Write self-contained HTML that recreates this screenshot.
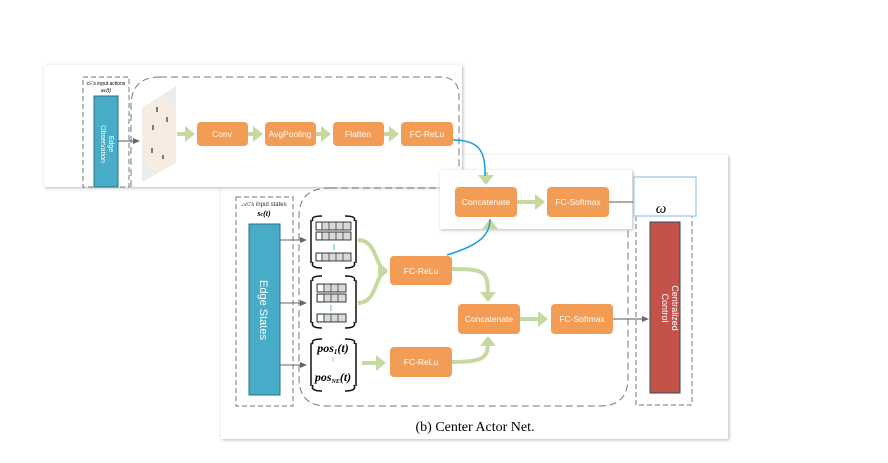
<!DOCTYPE html>
<html><head><meta charset="utf-8"><style>
html,body{margin:0;padding:0;background:#fff;}
svg{display:block;}
text{font-family:"Liberation Sans",sans-serif;}
text.sf,text.sf tspan{font-family:"Liberation Serif",serif;}
.bx{fill:#f39c55;}
.bt{fill:#fff;font-size:8.5px;text-anchor:middle;}
.g{stroke:#c5d9a0;fill:none;stroke-width:4;}
</style></head><body>
<svg width="888" height="463" viewBox="0 0 888 463" xmlns="http://www.w3.org/2000/svg">
<defs>
<marker id="ga" markerWidth="4" markerHeight="4" refX="2" refY="2" orient="auto" markerUnits="strokeWidth"><path d="M0,0L2.5,2L0,4z" fill="#c5d9a0"/></marker>
<marker id="ka" markerWidth="8" markerHeight="8" refX="6" refY="3" orient="auto" markerUnits="userSpaceOnUse"><path d="M0,0L7,3L0,6z" fill="#666"/></marker>
<filter id="sh" x="-5%" y="-5%" width="110%" height="115%"><feDropShadow dx="1" dy="1" stdDeviation="1.5" flood-color="#888" flood-opacity="0.6"/></filter>
<clipPath id="pc"><polygon points="142,108 176,86 176,163 142,182"/></clipPath>
</defs>

<!-- bottom panel -->
<rect x="221" y="155" width="507" height="284" fill="#fff" filter="url(#sh)"/>
<rect x="236" y="197" width="57" height="209" fill="none" stroke="#777" stroke-dasharray="5,3"/>
<text x="264" y="206" font-size="6" text-anchor="middle" fill="#333">𝒜<tspan fill="#2a6fd0">c</tspan>'s input states</text>
<text class="sf" x="264" y="216" font-size="8" text-anchor="middle" font-style="italic" font-weight="bold">s<tspan font-size="6">c</tspan>(t)</text>
<rect x="249" y="224" width="31" height="171" fill="#46acc8" stroke="#2a6f80"/>
<text transform="translate(260,310) rotate(90)" font-size="11" fill="#fff" text-anchor="middle">Edge States</text>
<path d="M330,188 H600 Q628,188 628,216 V378 Q628,406 600,406 H327 Q299,406 299,378 V216 Q299,188 330,188" fill="none" stroke="#777" stroke-dasharray="7,4"/>
<line x1="280" y1="240" x2="306" y2="240" stroke="#666" marker-end="url(#ka)"/>
<line x1="280" y1="303" x2="306" y2="303" stroke="#666" marker-end="url(#ka)"/>
<line x1="280" y1="365" x2="306" y2="365" stroke="#666" marker-end="url(#ka)"/>
<g stroke="#111" stroke-width="1.5" fill="none">
<path d="M313,221 Q310,216 322,216 M345,216 Q357,216 354,221 M313,262 Q310,268 322,268 M345,268 Q357,268 354,262"/>
<path d="M311,220 V263 M356,220 V263"/>
<path d="M313,281 Q310,276 322,276 M345,276 Q357,276 354,281 M313,322 Q310,328 322,328 M345,328 Q357,328 354,322"/>
<path d="M311,280 V323 M356,280 V323"/>
<path d="M313,344 Q310,339 322,339 M345,339 Q357,339 354,344 M313,385 Q310,391 322,391 M345,391 Q357,391 354,385"/>
<path d="M311,343 V386 M356,343 V386"/>
</g>
<g stroke="#111" stroke-width="0.8" fill="#d8d8d8">
<rect x="316" y="222" width="35" height="8"/><rect x="316" y="232" width="35" height="8"/><rect x="316" y="253" width="35" height="8"/>
<rect x="317" y="284" width="29" height="8"/><rect x="317" y="294" width="29" height="8"/><rect x="317" y="314" width="29" height="8"/>
</g>
<g stroke="#111" stroke-width="0.6">
<path d="M322,222V230M329,222V230M336,222V230M343,222V230M322,232V240M329,232V240M336,232V240M343,232V240M322,253V261M329,253V261M336,253V261M343,253V261"/>
<path d="M324,284V292M331,284V292M338,284V292M324,294V302M331,294V302M338,294V302M324,314V322M331,314V322M338,314V322"/>
</g>
<g fill="#fff" stroke="none"><rect x="317" y="223" width="4" height="6"/><rect x="317" y="233" width="4" height="6"/><rect x="317" y="254" width="4" height="6"/><rect x="318" y="285" width="5" height="6"/><rect x="318" y="295" width="5" height="6"/><rect x="318" y="315" width="5" height="6"/></g>
<line x1="334" y1="244" x2="334" y2="250" stroke="#5bb" /><line x1="331" y1="305" x2="331" y2="311" stroke="#5bb"/><line x1="333" y1="357" x2="333" y2="362" stroke="#e8c060"/>
<text class="sf" x="333" y="352" font-size="12" text-anchor="middle" font-style="italic" font-weight="bold">pos<tspan font-size="7" dy="2">1</tspan><tspan dy="-2">(t)</tspan></text>
<text class="sf" x="333" y="381" font-size="12" text-anchor="middle" font-style="italic" font-weight="bold">pos<tspan font-size="6" dy="2">NE</tspan><tspan dy="-2">(t)</tspan></text>

<path class="g" d="M358,240 C378,240 375,270 386,270" marker-end="url(#ga)"/>
<path class="g" d="M358,303 C378,303 375,272 386,272" marker-end="url(#ga)"/>
<path class="g" d="M362,363 H384" marker-end="url(#ga)" stroke-width="5"/>
<path class="g" d="M452,269 C488,269 488,272 488,300" marker-end="url(#ga)"/>
<path class="g" d="M452,362 C488,362 488,356 488,338" marker-end="url(#ga)"/>
<path class="g" d="M520,319 H546" marker-end="url(#ga)" stroke-width="5"/>
<rect class="bx" x="390" y="256" width="62" height="29" rx="4"/><text class="bt" x="421" y="274">FC-ReLu</text>
<rect class="bx" x="390" y="347" width="62" height="30" rx="4"/><text class="bt" x="421" y="365">FC-ReLu</text>
<rect class="bx" x="458" y="304" width="62" height="30" rx="4"/><text class="bt" x="489" y="322">Concatenate</text>
<rect class="bx" x="551" y="304" width="62" height="30" rx="4"/><text class="bt" x="582" y="322">FC-Softmax</text>
<line x1="613" y1="319" x2="648" y2="319" stroke="#555" marker-end="url(#ka)"/>
<rect x="636" y="213" width="56" height="192" fill="none" stroke="#777" stroke-dasharray="5,3"/>
<rect x="650" y="222" width="30" height="171" fill="#c5524a" stroke="#2a4f5a"/>
<text transform="translate(667,308) rotate(90)" font-size="9" fill="#fff" text-anchor="middle"><tspan x="0" dy="-5">Centralized</tspan><tspan x="0" dy="10">Control</tspan></text>
<text class="sf" x="475" y="431" font-size="14" text-anchor="middle">(b) Center Actor Net.</text>

<!-- top panel -->
<rect x="44" y="65" width="418" height="122" fill="#fff" filter="url(#sh)"/>
<rect x="83" y="77" width="46" height="110" fill="none" stroke="#777" stroke-dasharray="5,3"/>
<text x="106" y="85" font-size="5" text-anchor="middle">c<tspan fill="#2a6fd0">E</tspan>'s input actions</text>
<text x="106" y="92" font-size="5" text-anchor="middle" font-style="italic">a<tspan font-size="4">E</tspan>(t)</text>
<rect x="94" y="96" width="24" height="91" fill="#46acc8" stroke="#2a6f80"/>
<text transform="translate(106,144) rotate(90)" font-size="7" fill="#fff" text-anchor="middle"><tspan x="0" dy="-3">Edge</tspan><tspan x="0" dy="8">Observation</tspan></text>
<path d="M160,77 H440 Q459,77 459,96 V187 M131,187 V106 Q131,77 160,77" fill="none" stroke="#777" stroke-dasharray="7,4"/>
<polygon points="142,108 176,86 176,163 142,182" fill="#ececec"/>
<ellipse cx="160" cy="134" rx="20" ry="38" fill="#f6ece2" clip-path="url(#pc)"/>
<g fill="#778"><rect x="156" y="107" width="2" height="5"/><rect x="166" y="117" width="2" height="5"/><rect x="152" y="125" width="2" height="5"/><rect x="151" y="148" width="2" height="5"/><rect x="162" y="155" width="2" height="4"/></g>
<line x1="118" y1="141" x2="139" y2="141" stroke="#555" marker-end="url(#ka)"/>
<path class="g" d="M177,134 H193" marker-end="url(#ga)" stroke-width="5"/>
<path class="g" d="M248,134 H261" marker-end="url(#ga)" stroke-width="5"/>
<path class="g" d="M316,134 H329" marker-end="url(#ga)" stroke-width="5"/>
<path class="g" d="M384,134 H397" marker-end="url(#ga)" stroke-width="5"/>
<rect class="bx" x="197" y="122" width="51" height="24" rx="4"/><text class="bt" x="222" y="137">Conv</text>
<rect class="bx" x="265" y="122" width="51" height="24" rx="4"/><text class="bt" x="290" y="137">AvgPooling</text>
<rect class="bx" x="333" y="122" width="51" height="24" rx="4"/><text class="bt" x="358" y="137">Flatten</text>
<rect class="bx" x="401" y="122" width="52" height="24" rx="4"/><text class="bt" x="427" y="137">FC-ReLu</text>

<!-- overlay panel -->
<rect x="440" y="170" width="192" height="59" fill="#fff" filter="url(#sh)"/>
<path class="g" d="M517,202 H543" marker-end="url(#ga)" stroke-width="5"/>
<path class="g" d="M486,172 V183" marker-end="url(#ga)" stroke-width="2"/>
<path class="g" d="M490,228 V221" marker-end="url(#ga)" stroke-width="2"/>
<rect class="bx" x="455" y="187" width="62" height="30" rx="4"/><text class="bt" x="486" y="205">Concatenate</text>
<rect class="bx" x="547" y="187" width="62" height="30" rx="4"/><text class="bt" x="578" y="205">FC-Softmax</text>
<line x1="609" y1="202" x2="634" y2="202" stroke="#555"/>
<rect x="634" y="177" width="62" height="39" fill="#fff" stroke="#a8d0f0" stroke-width="1.5"/>
<text class="sf" x="661" y="213" font-size="15" text-anchor="middle" font-style="italic">ω</text>
<path d="M453,140 C478,140 486,150 485,176" fill="none" stroke="#1aa0e0" stroke-width="1.5"/>
<path d="M447,255 C480,245 490,235 490,219" fill="none" stroke="#1aa0e0" stroke-width="1.5"/>
</svg>
</body></html>
